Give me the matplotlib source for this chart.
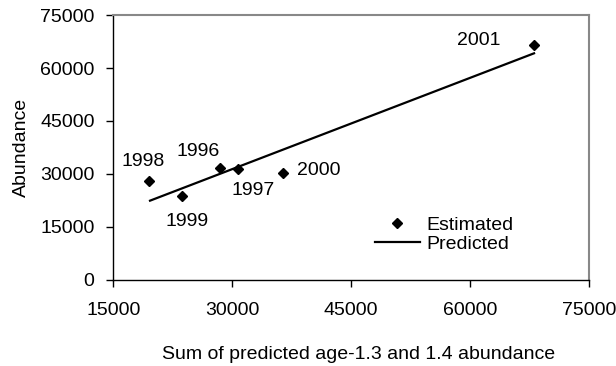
import matplotlib.pyplot as plt

plt.rcParams['font.family'] = ['Liberation Sans', 'DejaVu Sans']

# data
years = ['1998', '1999', '1996', '1997', '2000', '2001']
sum_pred = [19540, 23670, 28430, 30740, 36420, 68100]
abundance = [28020, 23690, 31790, 31500, 30290, 66510]

pred_x = [19630, 68100]
pred_y = [22450, 64160]

xticks = [15000, 30000, 45000, 60000, 75000]
yticks = [0, 15000, 30000, 45000, 60000, 75000]

# label offsets (pixels) relative to each point
offsets = {'1998': (-6, 19), '1999': (5, -25), '1996': (-22, 16),
           '1997': (15, -22), '2000': (36, 2), '2001': (-55, 5)}

fs = 14
fig = plt.figure(figsize=(6.16, 3.66), dpi=100)
ax = fig.add_axes([0.184, 0.235, 0.7717, 0.724])

ax.plot(sum_pred, abundance, 'D', color='black', markersize=5.5, label='Estimated')
ax.plot(pred_x, pred_y, '-', color='black', linewidth=1.6, label='Predicted')

for yr, x, y in zip(years, sum_pred, abundance):
    ax.annotate(yr, (x, y), xytext=offsets[yr], textcoords='offset pixels',
                ha='center', va='center', fontsize=fs)

ax.set_xlim(15000, 75000)
ax.set_ylim(0, 75000)
ax.set_xticks(xticks)
ax.set_yticks(yticks)
ax.tick_params(labelsize=fs, direction='out', length=5, width=1, pad=8.5)
ax.tick_params(axis='x', pad=10.5)

for s in ['top', 'right']:
    ax.spines[s].set_color('#888888')
    ax.spines[s].set_linewidth(1.5)
for s in ['left', 'bottom']:
    ax.spines[s].set_color('black')
    ax.spines[s].set_linewidth(1)

ax.set_xlabel('Sum of predicted age-1.3 and 1.4 abundance', fontsize=fs, va='center')
ax.xaxis.set_label_coords(0.516, -0.283)
ax.set_ylabel('Abundance', fontsize=fs, labelpad=7)

ax.legend(loc='upper left', bbox_to_anchor=(375 / 616, 1 - 216 / 366),
          bbox_transform=fig.transFigure, frameon=False, fontsize=fs,
          handlelength=2.3, handletextpad=0.35, labelspacing=0.1,
          borderpad=0, borderaxespad=0)

fig.savefig('out.png', dpi=100)
